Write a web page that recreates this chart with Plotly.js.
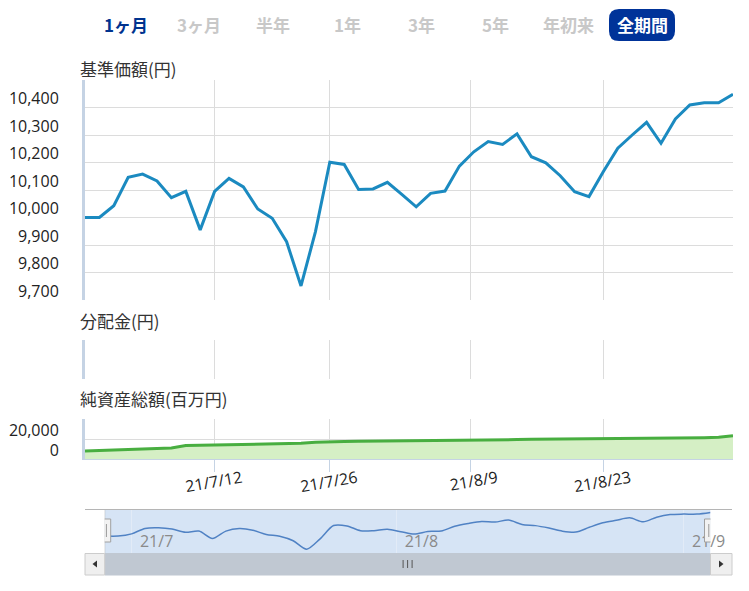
<!DOCTYPE html>
<html><head><meta charset="utf-8">
<script src="https://cdn.plot.ly/plotly-3.0.1.min.js"></script>
<style>html,body{margin:0;padding:0;background:#fff;}#chart{width:749px;height:591px;}</style>
</head><body><div id="chart"></div>
<script>
// ---------------- data ----------------
const dates = ['2021-06-29','2021-06-30','2021-07-01','2021-07-02','2021-07-05','2021-07-06','2021-07-07','2021-07-08','2021-07-09',
 '2021-07-12','2021-07-13','2021-07-14','2021-07-15','2021-07-16','2021-07-19','2021-07-20','2021-07-21','2021-07-26','2021-07-27',
 '2021-07-28','2021-07-29','2021-07-30','2021-08-02','2021-08-03','2021-08-04','2021-08-05','2021-08-06','2021-08-10','2021-08-11',
 '2021-08-12','2021-08-13','2021-08-16','2021-08-17','2021-08-18','2021-08-19','2021-08-20','2021-08-23','2021-08-24','2021-08-25',
 '2021-08-26','2021-08-27','2021-08-30','2021-08-31','2021-09-01','2021-09-02','2021-09-03'];
const navPrice = [10000,10000,10043,10146,10158,10133,10072,10095,9955,10095,10142,10111,10031,9997,9912,9751,9948,10201,10193,
 10102,10104,10128,10084,10039,10088,10096,10187,10239,10276,10266,10304,10221,10199,10152,10094,10076,10167,10252,10300,10346,
 10270,10358,10409,10417,10417,10448];
const dividendDates = [];
const dividends = [];
const netAssets = [8300,8800,9300,9800,10300,10800,11300,13600,13800,14000,14300,14600,14900,15200,15500,15900,17000,17600,17700,
 17800,17900,18000,18100,18300,18500,18700,19000,19200,19400,19500,19600,19800,19900,20000,20200,20400,20600,20700,20800,20900,
 21000,21100,21300,21500,21900,23300];

const mainTickDates = ['2021-07-12','2021-07-26','2021-08-09','2021-08-23'];
const mainTickText  = ['21/7/12','21/7/26','21/8/9','21/8/23'];
const navTickDates  = ['2021-07-01','2021-08-01','2021-09-01'];
const navTickText   = ['21/7','21/8','21/9'];
const priceTicks    = [9700,9800,9900,10000,10100,10200,10300,10400,10500];
const priceTickText = ['9,700','9,800','9,900','10,000','10,100','10,200','10,300','10,400',''];
const assetTicks    = [0,20000,40000];
const assetTickText = ['0','20,000',''];
const buttonLabels  = ['1ヶ月','3ヶ月','半年','1年','3年','5年','年初来','全期間'];
const panelTitles   = ['基準価額(円)','分配金(円)','純資産総額(百万円)'];

// ---------------- helpers ----------------
const W=749, H=591, L=85, R=16;
const PW = W-L-R;
const px = p => (p-L)/PW;
const py = p => (H-p)/H;
const ts = dates.map(d=>Date.parse(d));
function ordinalPos(d){
  const t = Date.parse(d);
  for(let i=0;i<ts.length-1;i++){
    if(t>=ts[i] && t<=ts[i+1]) return i+(t-ts[i])/(ts[i+1]-ts[i]);
  }
  return t<ts[0]?0:ts.length-1;
}
const last = dates.length-1;

const numFont = {family:'"Open Sans", sans-serif', size:16, color:'#222'};
const jpFont  = {family:'"Noto Sans CJK JP", sans-serif', size:17, color:'#333'};
const gridC = '#dcdcdc', axisC = '#c5d3e4';

// ---------------- traces ----------------
const traces = [
  {type:'scatter', mode:'lines', x:dates, y:navPrice, xaxis:'x', yaxis:'y',
   line:{color:'#1b8ac0', width:3}, hoverinfo:'skip'},
  {type:'scatter', mode:'lines', x:dividendDates, y:dividends, xaxis:'x', yaxis:'y2', hoverinfo:'skip'},
  {type:'scatter', mode:'lines', x:dates, y:netAssets, xaxis:'x', yaxis:'y3', fill:'tozeroy',
   fillcolor:'#d5efc5', line:{color:'#48ae40', width:3}, hoverinfo:'skip'},
  {type:'scatter', mode:'lines', x:dates, y:navPrice, xaxis:'x4', yaxis:'y4',
   line:{color:'#5082c4', width:1.5, shape:'spline', smoothing:0.8}, hoverinfo:'skip'}
];

// ---------------- shapes ----------------
const shapes = [];
(function(){
  const x0=609,x1=675,y0=9,y1=41,r=10;
  const P=(x,y)=>px(x)+','+py(y);
  const path = 'M'+P(x0+r,y0)+' L'+P(x1-r,y0)+' Q'+P(x1,y0)+' '+P(x1,y0+r)+' L'+P(x1,y1-r)+' Q'+P(x1,y1)+' '+P(x1-r,y1)+
    ' L'+P(x0+r,y1)+' Q'+P(x0,y1)+' '+P(x0,y1-r)+' L'+P(x0,y0+r)+' Q'+P(x0,y0)+' '+P(x0+r,y0)+' Z';
  shapes.push({type:'path', xref:'paper', yref:'paper', path:path, fillcolor:'#003399', line:{width:0}});
})();
shapes.push({type:'rect', xref:'x4', yref:'y4 domain', x0:0, x1:last, y0:0, y1:1, fillcolor:'#d6e4f5', line:{width:0}, layer:'below'});
shapes.push({type:'line', xref:'paper', yref:'paper', x0:px(85), x1:px(732), y0:py(509.5), y1:py(509.5), line:{color:'#b5b5b5', width:1}});
shapes.push({type:'line', xref:'x4', yref:'paper', x0:0, x1:0, y0:py(509.5), y1:py(553), line:{color:'#b5b5b5', width:1}});
shapes.push({type:'rect', xref:'x4', yref:'paper', x0:0, x1:last, y0:py(575), y1:py(553.5), fillcolor:'#c0c8d2', line:{color:'#c0c8d2', width:1}});
shapes.push({type:'rect', xref:'paper', yref:'paper', x0:px(85), x1:px(104.7), y0:py(575), y1:py(553.5), fillcolor:'#efefef', line:{color:'#cccccc', width:1}});
shapes.push({type:'rect', xref:'paper', yref:'paper', x0:px(710.5), x1:px(732), y0:py(575), y1:py(553.5), fillcolor:'#efefef', line:{color:'#cccccc', width:1}});
shapes.push({type:'path', xref:'paper', yref:'paper', path:'M'+px(97)+','+py(560.5)+' L'+px(92.5)+','+py(564)+' L'+px(97)+','+py(567.5)+' Z', fillcolor:'#333', line:{width:0}});
shapes.push({type:'path', xref:'paper', yref:'paper', path:'M'+px(719)+','+py(560.5)+' L'+px(723.5)+','+py(564)+' L'+px(719)+','+py(567.5)+' Z', fillcolor:'#333', line:{width:0}});
[-4.5,0,4.5].forEach(dx=>{
  shapes.push({type:'line', xref:'x4', yref:'paper', xsizemode:'pixel', xanchor:last/2, x0:dx, x1:dx, y0:py(560), y1:py(568), line:{color:'#555', width:1}});
});
[0,last].forEach(a=>{
  shapes.push({type:'rect', xref:'x4', yref:'paper', xsizemode:'pixel', xanchor:a, x0:-6, x1:6, y0:py(542), y1:py(519), fillcolor:'#f2f2f2', line:{color:'#a0a0a0', width:1}});
  [-1.7,1.7].forEach(dx=>{
    shapes.push({type:'line', xref:'x4', yref:'paper', xsizemode:'pixel', xanchor:a, x0:dx, x1:dx, y0:py(537), y1:py(524), line:{color:'#999', width:1}});
  });
});

// ---------------- annotations ----------------
const annotations = [];
const btnX = [126,199,273,347.5,421,495.5,568.5,642];
buttonLabels.forEach((t,i)=>{
  const col = i===0 ? '#00338f' : (i===buttonLabels.length-1 ? '#ffffff' : '#c8c8c8');
  annotations.push({xref:'paper', yref:'paper', x:px(btnX[i]), y:py(24.5), text:'<b>'+t+'</b>', showarrow:false,
    xanchor:'center', yanchor:'middle', font:{family:'"Noto Sans CJK JP", sans-serif', size:17, color:col}});
});
const titleY = [68.3, 320.7, 398.5];
panelTitles.forEach((t,i)=>{
  annotations.push({xref:'paper', yref:'paper', x:px(78), y:py(titleY[i]), text:t, showarrow:false,
    xanchor:'left', yanchor:'middle', font:jpFont});
});

// ---------------- layout ----------------
const layout = {
  width:W, height:H, autosize:false,
  margin:{l:L, r:R, t:0, b:0, pad:0},
  paper_bgcolor:'#fff', plot_bgcolor:'rgba(0,0,0,0)',
  showlegend:false, hovermode:false,
  xaxis:{type:'category', anchor:'y3', range:[0,last], domain:[0,1],
    tickmode:'array', tickvals:mainTickDates.map(ordinalPos), ticktext:mainTickText,
    tickangle:-10, ticklabelshift:27, ticklabelstandoff:-9, tickfont:numFont,
    showgrid:true, gridcolor:gridC, gridwidth:1,
    ticks:'outside', ticklen:12, tickcolor:axisC, tickwidth:1,
    showline:true, linecolor:axisC, linewidth:1, zeroline:false, fixedrange:true},
  yaxis:{domain:[py(300),py(80)], anchor:'x', range:[9700,10500],
    tickmode:'array', tickvals:priceTicks, ticktext:priceTickText, tickfont:numFont,
    ticks:'', ticklabelshift:-9, ticklabelstandoff:20,
    showgrid:true, gridcolor:gridC, gridwidth:1,
    showline:true, linecolor:axisC, linewidth:3, zeroline:false, fixedrange:true},
  yaxis2:{domain:[py(379),py(340)], anchor:'x', range:[0,1],
    showticklabels:false, ticks:'', showgrid:false,
    showline:true, linecolor:axisC, linewidth:3, zeroline:false, fixedrange:true},
  yaxis3:{domain:[py(459.3),py(419)], anchor:'x', range:[0,40000],
    tickmode:'array', tickvals:assetTicks, ticktext:assetTickText, tickfont:numFont,
    ticks:'', ticklabelshift:-9, ticklabelstandoff:20,
    showgrid:true, gridcolor:gridC, gridwidth:1,
    showline:true, linecolor:axisC, linewidth:3, zeroline:false, fixedrange:true},
  xaxis4:{type:'category', anchor:'y4', domain:[px(104.7),px(710.5)], range:[0,last],
    tickmode:'array', tickvals:navTickDates.map(ordinalPos), ticktext:navTickText,
    ticklabelposition:'inside', ticklabelshift:25, ticklabeloverflow:'allow', ticks:'',
    tickfont:{family:'"Open Sans", sans-serif', size:16, color:'#8a8a8a'},
    showgrid:true, gridcolor:'#e2ebf7', gridwidth:1, showline:false, zeroline:false, fixedrange:true},
  yaxis4:{anchor:'x4', domain:[py(553),py(510)], range:[9680,10495],
    showticklabels:false, ticks:'', showgrid:false, showline:false, zeroline:false, fixedrange:true},
  shapes:shapes, annotations:annotations
};

Plotly.newPlot('chart', traces, layout, {displayModeBar:false, staticPlot:true});
</script>
</body></html>
